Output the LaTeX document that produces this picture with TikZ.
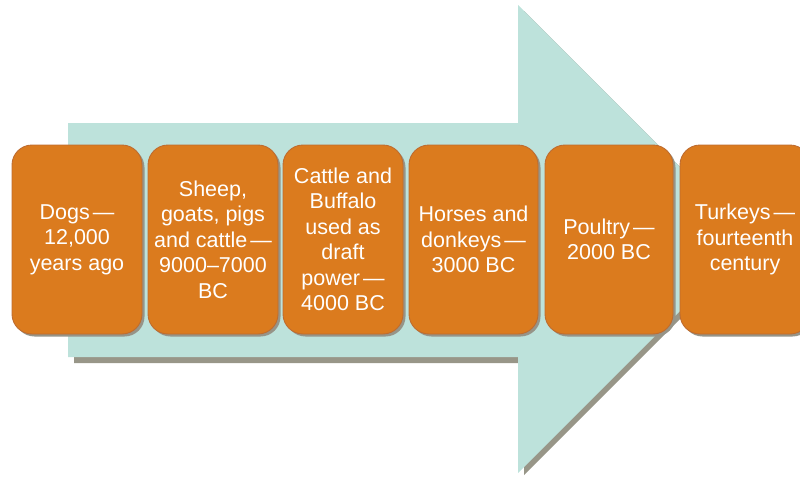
\documentclass[tikz,border=0pt]{standalone}
\usepackage{fontspec}
\setmainfont{Liberation Sans}
\usetikzlibrary{shadows}
\definecolor{arrowteal}{RGB}{189,226,219}
\definecolor{arrowshadow}{RGB}{152,150,136}
\definecolor{boxorange}{RGB}{219,123,30}
\definecolor{boxedge}{RGB}{190,108,48}
\definecolor{boxshadowc}{RGB}{150,148,136}
\newcommand{\stdash}{\kern3pt—}
\tikzset{
  stagebox/.style={draw=boxedge, line width=0.9pt, fill=boxorange, rounded corners=20pt,
    minimum height=189pt, text=white, align=center, inner sep=0pt,
    font=\fontsize{21.5}{25.5}\selectfont,
    drop shadow={shadow xshift=2.5pt, shadow yshift=-2.5pt, fill=boxshadowc, opacity=1}},
}
\begin{document}
\begin{tikzpicture}[x=1pt,y=-1pt]
\useasboundingbox (0,0) rectangle (800,477);
\clip (0,0) rectangle (800,477);
% arrow shadow
\fill[arrowshadow] (74,129) -- (524,129) -- (524,11) -- (756,243) -- (524,475) -- (524,363) -- (74,363) -- cycle;
% arrow
\fill[arrowteal] (68,123) -- (518,123) -- (518,5) -- (752,239) -- (518,473) -- (518,357) -- (68,357) -- cycle;
% stages
\node[stagebox, minimum width=130pt] (b1) at (77,239.5) {Dogs\stdash\\12,000\\years ago};
\node[stagebox, minimum width=130pt] (b2) at (213,239.5) {Sheep,\\goats, pigs\\and cattle\stdash\\9000–7000\\BC};
\node[stagebox, minimum width=120pt] (b3) at (343,239.5) {Cattle and\\Buffalo\\used as\\draft\\power\stdash\\4000 BC};
\node[stagebox, minimum width=129pt] (b4) at (473.5,239.5) {Horses and\\donkeys\stdash\\3000 BC};
\node[stagebox, minimum width=128pt] (b5) at (609,239.5) {Poultry\stdash\\2000 BC};
\node[stagebox, minimum width=130pt] (b6) at (745,239.5) {Turkeys\stdash\\fourteenth\\century};
\end{tikzpicture}
\end{document}
